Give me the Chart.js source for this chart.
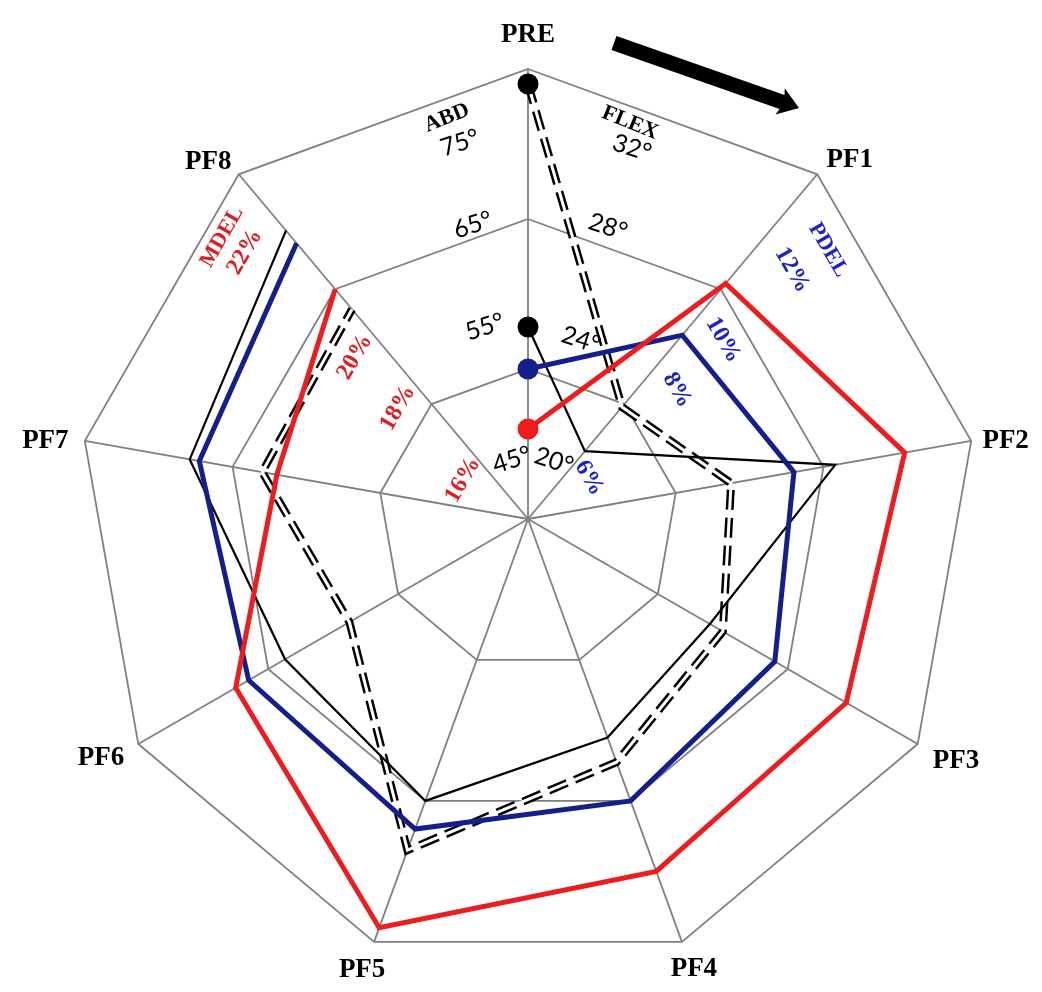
<!DOCTYPE html>
<html>
<head>
<meta charset="utf-8">
<script src="https://cdn.jsdelivr.net/npm/chart.js@4.4.1/dist/chart.umd.min.js"></script>
<style>
  html, body { margin: 0; padding: 0; background: #ffffff; }
  #wrap { width: 1042px; height: 992px; position: relative; }
</style>
</head>
<body>
<div id="wrap"><canvas id="chart"></canvas></div>
<script>
// Phases of the movement, read clockwise from PRE
const categories = ['PRE', 'PF1', 'PF2', 'PF3', 'PF4', 'PF5', 'PF6', 'PF7', 'PF8'];

// Shoulder abduction (degrees) – thin black line
const abdValues  = [57.8, 50.9, 65.8, 59.0, 60.5, 65.0, 63.7, 67.9, 70.1];
// Shoulder flexion (degrees) – double dashed line
const flexValues = [31.6, 23.9, 25.5, 26.0, 26.9, 29.4, 25.5, 27.2, 27.3];
// Posterior deltoid activity (%) – blue line
const pdelValues = [8.0, 9.2, 9.6, 9.8, 10.0, 10.4, 10.3, 10.45, 10.8];
// Middle deltoid activity (%) – red line
const mdelValues = [17.2, 20.1, 21.1, 20.9, 21.0, 21.8, 20.5, 19.4, 20.0];

// Ring values of each measure (centre, ring 1, ring 2, outer ring)
const abdTicks  = ['45°', '55°', '65°', '75°'];
const flexTicks = ['20°', '24°', '28°', '32°'];
const pdelTicks = ['6%', '8%', '10%', '12%'];
const mdelTicks = ['16%', '18%', '20%', '22%'];

const RED = '#ec1c1f';
const NAVY = '#141f8c';
const RED_TEXT = '#dc1f22';
const BLUE_TEXT = '#1d22c4';
const GRID = '#808080';

const dotAtStart = (r) => (ctx) => ctx.dataIndex === 0 ? r : 0;

function axisRange(ticks) {
  const nums = ticks.map(t => parseFloat(t));
  return { min: nums[0], max: nums[nums.length - 1], step: nums[1] - nums[0] };
}
const abdR = axisRange(abdTicks), flexR = axisRange(flexTicks),
      pdelR = axisRange(pdelTicks), mdelR = axisRange(mdelTicks);

function hiddenScale(range) {
  return {
    type: 'radialLinear', axis: 'r', display: false,
    min: range.min, max: range.max,
    ticks: { display: false, stepSize: range.step },
    pointLabels: { display: false }
  };
}

// Each series is traced as an open path from PRE round to PF8
const openPaths = {
  id: 'openPaths',
  afterDatasetsUpdate(chart) {
    chart.getSortedVisibleDatasetMetas().forEach(meta => {
      const line = meta.dataset;
      if (line) {
        line._loop = false;
        line._fullLoop = false;
        delete line._segments;
        delete line._path;
      }
    });
  }
};

function drawText(ctx, text, x, y, rotDeg, font, color) {
  ctx.save();
  ctx.translate(x, y);
  ctx.rotate(rotDeg * Math.PI / 180);
  ctx.font = font;
  ctx.fillStyle = color;
  ctx.textAlign = 'center';
  ctx.textBaseline = 'middle';
  ctx.fillText(text, 0, 0);
  ctx.restore();
}

// Fine placement of the phase names beyond the outer ring
const phaseLabelNudge = [[0, 1], [10, 13], [0, 6], [8, 0], [0, -6], [0, -5], [-7, -3], [-5, 6], [-8, 15]];

// Scale annotations, placed relative to the chart centre
const abdLabelOffsets  = [[-16, -59], [-43, -192], [-55, -294], [-68, -376]];
const flexLabelOffsets = [[26, -58], [53, -179], [80, -292], [104, -371]];
const pdelLabelOffsets = [[61, -41], [149, -129], [195, -179], [264, -249]];
const mdelLabelOffsets = [[-65, -39], [-130, -111], [-173, -162], [-283, -267]];

const annotations = {
  id: 'annotations',
  afterDraw(chart) {
    const s = chart.scales.rAbd;
    const ctx = chart.ctx;
    const cx = s.xCenter, cy = s.yCenter, R = s.drawingArea;

    // phase names around the outside
    ctx.save();
    ctx.font = 'bold 27px "Liberation Serif"';
    ctx.fillStyle = '#000';
    ctx.textAlign = 'center';
    ctx.textBaseline = 'middle';
    categories.forEach((lab, i) => {
      const p = s.getPointPosition(i, R + 35);
      ctx.fillText(lab, p.x + phaseLabelNudge[i][0], p.y + phaseLabelNudge[i][1]);
    });
    ctx.restore();

    const numFont = '25px Lato';
    const titleFont = 'bold 22px "Liberation Serif"';
    const pctFont = 'bold 24px "Liberation Serif"';

    abdTicks.forEach((t, i) => drawText(ctx, t, cx + abdLabelOffsets[i][0], cy + abdLabelOffsets[i][1], -18, numFont, '#000'));
    flexTicks.forEach((t, i) => drawText(ctx, t, cx + flexLabelOffsets[i][0], cy + flexLabelOffsets[i][1], 18, numFont, '#000'));
    pdelTicks.forEach((t, i) => drawText(ctx, t, cx + pdelLabelOffsets[i][0], cy + pdelLabelOffsets[i][1], 60, pctFont, BLUE_TEXT));
    mdelTicks.forEach((t, i) => drawText(ctx, t, cx + mdelLabelOffsets[i][0], cy + mdelLabelOffsets[i][1], -60, pctFont, RED_TEXT));

    drawText(ctx, 'ABD', cx - 81, cy - 401, -22, titleFont, '#000');
    drawText(ctx, 'FLEX', cx + 102, cy - 396, 22, titleFont, '#000');
    drawText(ctx, 'PDEL', cx + 300, cy - 269, 60, titleFont, BLUE_TEXT);
    drawText(ctx, 'MDEL', cx - 306, cy - 282, -60, titleFont, RED_TEXT);

    // direction arrow (clockwise progression)
    const x0 = cx + 86, y0 = cy - 476, x1 = cx + 271, y1 = cy - 411;
    const ang = Math.atan2(y1 - y0, x1 - x0);
    const len = Math.hypot(x1 - x0, y1 - y0);
    ctx.save();
    ctx.translate(x0, y0);
    ctx.rotate(ang);
    ctx.fillStyle = '#000';
    ctx.beginPath();
    ctx.moveTo(0, -7.5);
    ctx.lineTo(len - 18, -7.5);
    ctx.lineTo(len - 20, -14);
    ctx.lineTo(len, 0);
    ctx.lineTo(len - 20, 14);
    ctx.lineTo(len - 18, 7.5);
    ctx.lineTo(0, 7.5);
    ctx.closePath();
    ctx.fill();
    ctx.restore();
  }
};

new Chart(document.getElementById('chart'), {
  type: 'radar',
  data: {
    labels: categories,
    datasets: [
      {
        label: 'MDEL', data: mdelValues, rAxisID: 'rMdel',
        borderColor: RED, borderWidth: 5, fill: false,
        pointRadius: dotAtStart(10.5), pointBackgroundColor: RED, pointBorderWidth: 0,
        order: 1
      },
      {
        label: 'PDEL', data: pdelValues, rAxisID: 'rPdel',
        borderColor: NAVY, borderWidth: 5, fill: false,
        pointRadius: dotAtStart(10.5), pointBackgroundColor: NAVY, pointBorderWidth: 0,
        order: 2
      },
      {
        label: 'ABD', data: abdValues, rAxisID: 'rAbd',
        borderColor: '#000', borderWidth: 2.2, fill: false,
        pointRadius: dotAtStart(10.5), pointBackgroundColor: '#000', pointBorderWidth: 0,
        order: 3
      },
      {
        // inner white core that splits the flexion stroke into a double line
        label: 'FLEX', data: flexValues, rAxisID: 'rFlex',
        borderColor: '#ffffff', borderWidth: 3, fill: false,
        borderJoinStyle: 'miter',
        pointRadius: dotAtStart(10.5), pointBackgroundColor: '#000', pointBorderWidth: 0,
        order: 4
      },
      {
        label: 'FLEX', data: flexValues, rAxisID: 'rFlex',
        borderColor: '#000', borderWidth: 8, borderDash: [20, 8], fill: false,
        borderJoinStyle: 'miter', borderCapStyle: 'butt',
        pointRadius: 0,
        order: 5
      }
    ]
  },
  options: {
    responsive: true,
    maintainAspectRatio: false,
    animation: false,
    events: [],
    layout: { padding: { left: 78, right: 64, top: 69, bottom: 23 } },
    elements: { line: { tension: 0 } },
    plugins: { legend: { display: false }, tooltip: { enabled: false } },
    scales: {
      rAbd: {
        type: 'radialLinear', axis: 'r',
        min: abdR.min, max: abdR.max,
        ticks: { display: false, stepSize: abdR.step },
        grid: { color: GRID, lineWidth: 1.8 },
        angleLines: { color: GRID, lineWidth: 1.8 },
        pointLabels: { display: false }
      },
      rFlex: hiddenScale(flexR),
      rPdel: hiddenScale(pdelR),
      rMdel: hiddenScale(mdelR)
    }
  },
  plugins: [openPaths, annotations]
});
</script>
</body>
</html>
